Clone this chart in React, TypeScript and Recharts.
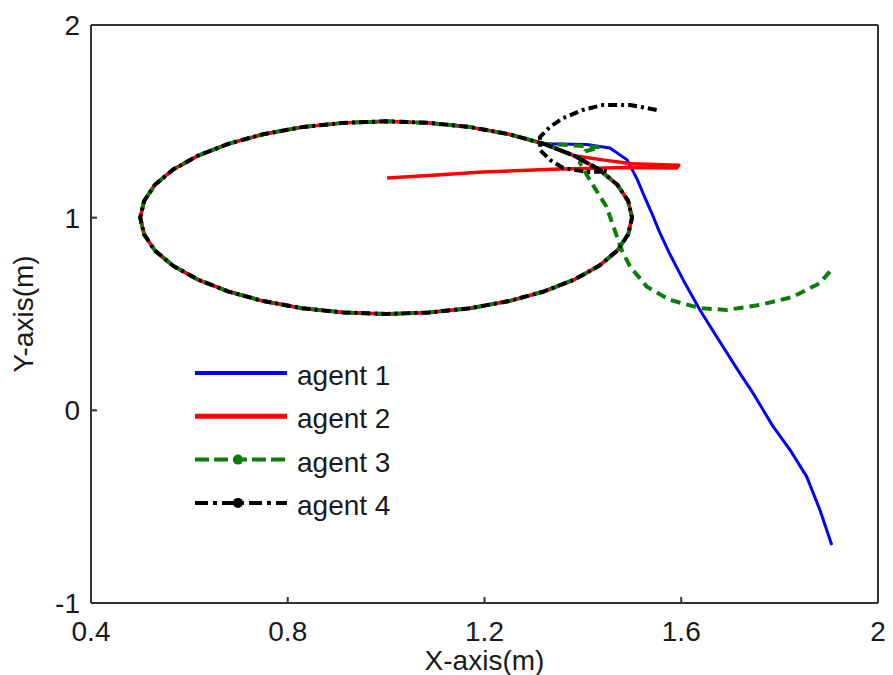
import React from 'react';
import { LineChart, Line, XAxis, YAxis, Legend } from 'recharts';

type Pt = { x: number; y: number };

const xTicks = [0.4, 0.8, 1.2, 1.6, 2];
const yTicks = [-1, 0, 1, 2];

// the common orbit every agent settles on, counter-clockwise
const orbit: Pt[] = [
  { x: 1.321, y: 1.383 }, { x: 1.25, y: 1.433 }, { x: 1.171, y: 1.47 }, { x: 1.087, y: 1.492 },
  { x: 1.0, y: 1.5 }, { x: 0.913, y: 1.492 }, { x: 0.829, y: 1.47 }, { x: 0.75, y: 1.433 },
  { x: 0.679, y: 1.383 }, { x: 0.617, y: 1.321 }, { x: 0.567, y: 1.25 }, { x: 0.53, y: 1.171 },
  { x: 0.508, y: 1.087 }, { x: 0.5, y: 1.0 }, { x: 0.508, y: 0.913 }, { x: 0.53, y: 0.829 },
  { x: 0.567, y: 0.75 }, { x: 0.617, y: 0.679 }, { x: 0.679, y: 0.617 }, { x: 0.75, y: 0.567 },
  { x: 0.829, y: 0.53 }, { x: 0.913, y: 0.508 }, { x: 1.0, y: 0.5 }, { x: 1.087, y: 0.508 },
  { x: 1.171, y: 0.53 }, { x: 1.25, y: 0.567 }, { x: 1.321, y: 0.617 }, { x: 1.383, y: 0.679 },
  { x: 1.433, y: 0.75 }, { x: 1.47, y: 0.829 }, { x: 1.492, y: 0.913 }, { x: 1.5, y: 1.0 },
  { x: 1.492, y: 1.087 }, { x: 1.47, y: 1.171 }, { x: 1.433, y: 1.25 }, { x: 1.383, y: 1.321 },
  { x: 1.321, y: 1.383 },
];

// approach paths before joining the orbit
const agent1Start: Pt[] = [
  { x: 1.906, y: -0.699 }, { x: 1.882, y: -0.517 }, { x: 1.855, y: -0.344 }, { x: 1.821, y: -0.205 },
  { x: 1.787, y: -0.085 }, { x: 1.746, y: 0.089 }, { x: 1.719, y: 0.193 }, { x: 1.672, y: 0.382 },
  { x: 1.638, y: 0.521 }, { x: 1.604, y: 0.677 }, { x: 1.577, y: 0.81 }, { x: 1.555, y: 0.93 },
  { x: 1.54, y: 1.024 }, { x: 1.525, y: 1.11 }, { x: 1.511, y: 1.196 }, { x: 1.49, y: 1.3 },
  { x: 1.455, y: 1.362 }, { x: 1.408, y: 1.38 }, { x: 1.353, y: 1.382 },
];

const agent2Start: Pt[] = [
  { x: 1.002, y: 1.206 }, { x: 1.103, y: 1.222 }, { x: 1.197, y: 1.237 }, { x: 1.353, y: 1.253 },
  { x: 1.49, y: 1.26 }, { x: 1.591, y: 1.258 }, { x: 1.595, y: 1.272 }, { x: 1.5, y: 1.28 },
  { x: 1.44, y: 1.3 }, { x: 1.383, y: 1.321 },
];

const agent3Start: Pt[] = [
  { x: 1.902, y: 0.72 }, { x: 1.882, y: 0.661 }, { x: 1.827, y: 0.589 }, { x: 1.76, y: 0.547 },
  { x: 1.692, y: 0.521 }, { x: 1.638, y: 0.531 }, { x: 1.577, y: 0.573 }, { x: 1.53, y: 0.642 },
  { x: 1.496, y: 0.746 }, { x: 1.479, y: 0.832 }, { x: 1.448, y: 1.057 }, { x: 1.414, y: 1.196 },
  { x: 1.394, y: 1.284 }, { x: 1.405, y: 1.345 }, { x: 1.435, y: 1.365 }, { x: 1.383, y: 1.375 },
];

const agent4Start: Pt[] = [
  { x: 1.55, y: 1.559 }, { x: 1.496, y: 1.585 }, { x: 1.441, y: 1.585 }, { x: 1.4, y: 1.559 },
  { x: 1.36, y: 1.517 }, { x: 1.333, y: 1.471 }, { x: 1.313, y: 1.419 }, { x: 1.313, y: 1.351 },
  { x: 1.333, y: 1.3 }, { x: 1.36, y: 1.258 }, { x: 1.408, y: 1.237 }, { x: 1.449, y: 1.24 },
  { x: 1.433, y: 1.25 }, { x: 1.383, y: 1.321 },
];

const font = '"Liberation Sans", Arial, sans-serif';
const ink = '#1a1a1a';
const frame = { stroke: '#333', strokeWidth: 2 };

const series = [
  { name: 'agent 1', data: [...agent1Start, ...orbit], color: '#0000ff', width: 3, dash: undefined, legendWidth: 4, legendDash: undefined, marker: false },
  { name: 'agent 2', data: [...agent2Start, ...orbit], color: '#ff0000', width: 3.5, dash: undefined, legendWidth: 5, legendDash: undefined, marker: false },
  { name: 'agent 3', data: [...agent3Start, ...orbit], color: '#0a7d0a', width: 4, dash: '10 6', legendWidth: 4, legendDash: '14 5', marker: true },
  { name: 'agent 4', data: [...agent4Start, ...orbit], color: '#000000', width: 4, dash: '9 4 3 4', legendWidth: 4, legendDash: '13 5 4 5', marker: true },
];

function LegendBox() {
  return (
    <svg width={230} height={180} style={{ display: 'block' }}>
      {series.map((s, i) => {
        const y = 18 + i * 43.3;
        return (
          <g key={s.name}>
            <line x1={0} x2={92} y1={y} y2={y} stroke={s.color} strokeWidth={s.legendWidth} strokeDasharray={s.legendDash} />
            {s.marker && <circle cx={43} cy={y} r={5} fill={s.color} />}
            <text x={102} y={y + 12} fontSize={28} fontFamily={font} fill={ink}>{s.name}</text>
          </g>
        );
      })}
    </svg>
  );
}

export default function App() {
  const tickStyle = { fill: ink, fontSize: 28, fontFamily: font };
  return (
    <div style={{ position: 'absolute', left: 0, top: 0, background: '#fff' }}>
      <LineChart width={893} height={675} margin={{ top: 24, right: 14, bottom: 71, left: 90 }}>
        {/* negative tickSize turns the ticks inward, like the original box plot */}
        <XAxis
          xAxisId="x" dataKey="x" type="number" domain={[0.4, 2]} allowDataOverflow
          ticks={xTicks} interval={0} height={1} tickSize={-6} tickMargin={24}
          axisLine={frame} tickLine={frame} tick={tickStyle}
          label={{ value: 'X-axis(m)', position: 'bottom', offset: 46, fill: ink, fontSize: 28, fontFamily: font }}
        />
        <XAxis
          xAxisId="xt" orientation="top" type="number" domain={[0.4, 2]} allowDataOverflow ticks={xTicks} interval={0}
          height={1} tick={false} tickSize={-6} axisLine={frame} tickLine={frame}
        />
        <YAxis
          yAxisId="y" type="number" domain={[-1, 2]} allowDataOverflow ticks={yTicks} interval={0}
          width={1} tickSize={-6} tickMargin={17}
          axisLine={frame} tickLine={frame} tick={tickStyle}
          label={{
            content: (props: any) => {
              const vb = props.viewBox || { x: 90, y: 25, width: 1, height: 578 };
              const cx = vb.x + vb.width - 68;
              const cy = vb.y + vb.height / 2;
              return (
                <text x={cx} y={cy} transform={`rotate(-90 ${cx} ${cy})`} textAnchor="middle"
                  dominantBaseline="central" fontSize={28} fontFamily={font} fill={ink}>
                  Y-axis(m)
                </text>
              );
            },
          }}
        />
        <YAxis
          yAxisId="yr" orientation="right" type="number" domain={[-1, 2]} allowDataOverflow ticks={yTicks} interval={0}
          width={1} tick={false} tickSize={-6} axisLine={frame} tickLine={frame}
        />
        {series.map((s) => (
          <Line
            key={s.name}
            xAxisId="x"
            yAxisId="y"
            data={s.data}
            dataKey="y"
            name={s.name}
            type="linear"
            stroke={s.color}
            strokeWidth={s.width}
            strokeDasharray={s.dash}
            strokeLinejoin="round"
            dot={false}
            activeDot={false}
            isAnimationActive={false}
          />
        ))}
        <Legend
          layout="horizontal" verticalAlign="middle" align="center"
          wrapperStyle={{ position: 'absolute', left: 195, top: 355, width: 230, height: 180 }}
          content={() => <LegendBox />}
        />
      </LineChart>
    </div>
  );
}
